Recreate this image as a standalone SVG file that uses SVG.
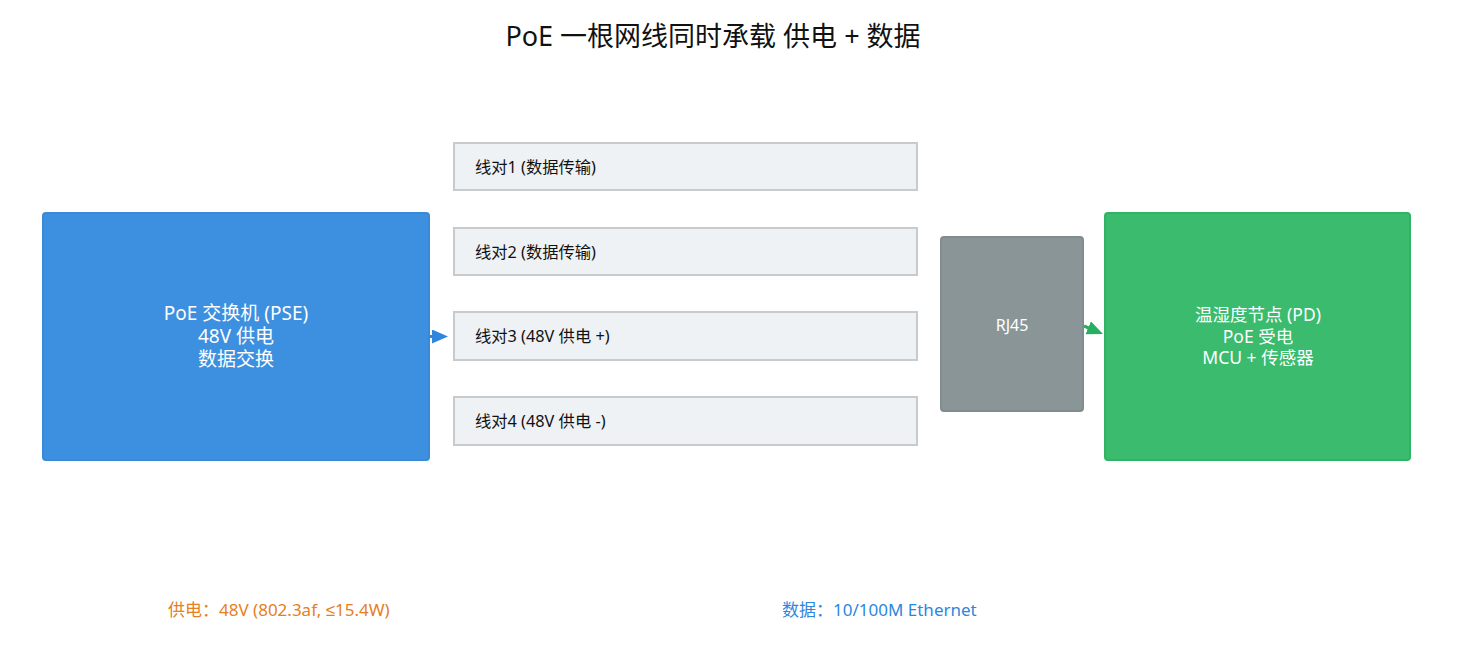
<svg xmlns="http://www.w3.org/2000/svg" width="1458" height="660" viewBox="0 0 1458 660">
<style>
text { font-family: "Noto Sans", "Noto Sans CJK SC", sans-serif; }
.title { font-size: 27px; fill: #111; text-anchor: middle; }
.pse { font-size: 19px; fill: #ffffff; text-anchor: middle; }
.pdt { font-size: 17.5px; fill: #ffffff; text-anchor: middle; }
.pair rect { fill: #eef2f5; stroke: #c8cbce; stroke-width: 2; }
.pair text { font-size: 16.3px; fill: #111; }
.note { font-size: 17px; }
.le { font-family: "Liberation Sans", "DejaVu Sans", sans-serif; }
</style>
<defs>
<marker id="ah-blue" markerWidth="16" markerHeight="14" refX="8" refY="7" orient="auto" markerUnits="userSpaceOnUse" viewBox="0 0 16 14">
<path d="M0,0 L16,7 L0,14 z" fill="#2e86de"/>
</marker>
<marker id="ah-green" markerWidth="16" markerHeight="14" refX="8" refY="7" orient="auto" markerUnits="userSpaceOnUse" viewBox="0 0 16 14">
<path d="M0,0 L16,7 L0,14 z" fill="#27ae60"/>
</marker>
</defs>
<rect width="1458" height="660" fill="#ffffff"/>
<text class="title" x="713" y="46">PoE 一根网线同时承载 供电 + 数据</text>

<g id="pse">
<rect x="43" y="213" width="386" height="247" rx="3" fill="#3d8fe0" stroke="#3a88d8" stroke-width="2"/>
<text class="pse" x="236" y="320">PoE 交换机 (PSE)</text>
<text class="pse" x="236" y="343">48V 供电</text>
<text class="pse" x="236" y="366">数据交换</text>
</g>

<g id="pair1" class="pair">
<rect x="454" y="143" width="463" height="47"/>
<text x="475" y="173">线对1 (数据传输)</text>
</g>
<g id="pair2" class="pair">
<rect x="454" y="228" width="463" height="47"/>
<text x="475" y="258">线对2 (数据传输)</text>
</g>
<g id="pair3" class="pair">
<rect x="454" y="312" width="463" height="48"/>
<text x="475" y="342">线对3 (48V 供电 +)</text>
</g>
<g id="pair4" class="pair">
<rect x="454" y="397" width="463" height="48"/>
<text x="475" y="427">线对4 (48V 供电 -)</text>
</g>

<g id="rj45">
<rect x="941" y="237" width="142" height="174" rx="3" fill="#8a9597" stroke="#808c8e" stroke-width="2"/>
<text x="1012" y="331" font-size="16" fill="#ffffff" text-anchor="middle">RJ45</text>
</g>

<g id="pd">
<rect x="1105" y="213" width="305" height="247" rx="3" fill="#3bbb6e" stroke="#30b464" stroke-width="2"/>
<text class="pdt" x="1258" y="321">温湿度节点 (PD)</text>
<text class="pdt" x="1258" y="343">PoE 受电</text>
<text class="pdt" x="1258" y="364">MCU + 传感器</text>
</g>

<g id="connectors">
<line x1="430" y1="336.5" x2="440" y2="336.5" stroke="#2e86de" stroke-width="3" marker-end="url(#ah-blue)"/>
<line x1="1084" y1="326" x2="1095.6" y2="330.9" stroke="#27ae60" stroke-width="3" marker-end="url(#ah-green)"/>
</g>

<text class="note" x="168" y="616" fill="#e67e22">供电：48V (802.3af, <tspan class="le">≤</tspan>15.4W)</text>
<text class="note" x="782" y="616" fill="#2e86de">数据：10/100M Ethernet</text>
</svg>
